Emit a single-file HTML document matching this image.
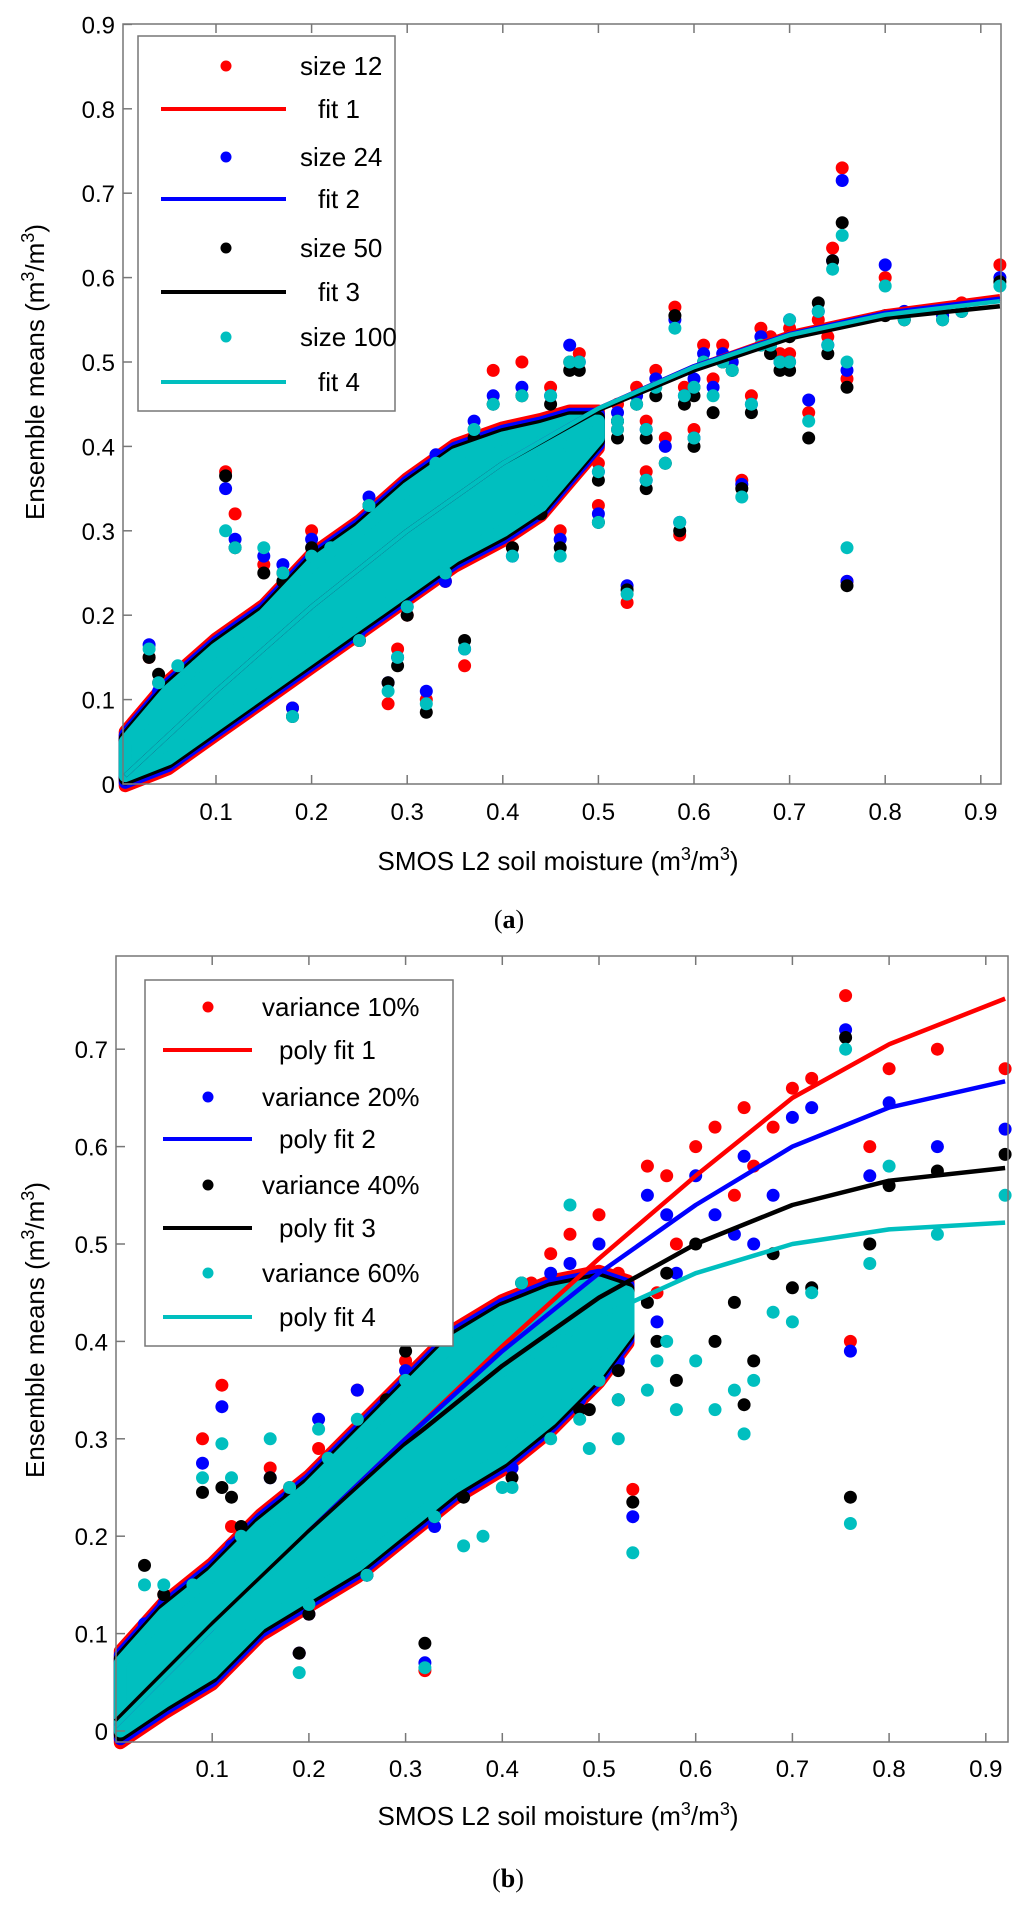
<!DOCTYPE html>
<html><head><meta charset="utf-8">
<style>
html,body{margin:0;padding:0;background:#fff;}
svg{display:block;font-family:"Liberation Sans",Arial,sans-serif;}
</style></head>
<body>
<svg id="fig" width="1024" height="1905" viewBox="0 0 1024 1905">
</svg>
<script>
// ---------- Panel (a) data ----------
const aTicksX = [0.1,0.2,0.3,0.4,0.5,0.6,0.7,0.8,0.9];
const aTicksY = [0,0.1,0.2,0.3,0.4,0.5,0.6,0.7,0.8,0.9];
const aBandX = [0.005,0.05,0.1,0.15,0.2,0.25,0.3,0.35,0.4,0.44,0.47,0.5];
const aBandUp = [0.05,0.11,0.16,0.2,0.26,0.3,0.35,0.39,0.41,0.42,0.43,0.43];
const aBandLo = [0.01,0.03,0.07,0.11,0.15,0.19,0.23,0.27,0.3,0.33,0.37,0.41];
const aPtX = [0.755,0.745,0.92,0.8,0.76,0.53,0.58,0.585,0.65,0.72,0.76,0.70,0.68,0.60,0.55,0.50,0.47,0.48,0.45,0.42,0.39,0.36,0.32,0.28,0.29,0.11,0.12,0.03,0.15,0.20,0.62,0.64,0.66,0.70,0.73,0.86,0.57,0.54,0.44,0.46,0.50,0.52,0.56,0.61,0.67,0.43,0.49,0.59,0.63,0.69,0.74,0.82,0.88,
  0.06,0.08,0.04,0.17,0.22,0.26,0.33,0.37,0.18,0.25,0.30,0.34,0.41,0.44,0.47,0.52,0.55,0.60];
const aRed   = [0.73,0.635,0.615,0.60,0.24,0.215,0.565,0.295,0.36,0.44,0.48,0.51,0.53,0.42,0.43,0.38,0.50,0.51,0.47,0.50,0.49,0.14,0.10,0.095,0.16,0.37,0.32,0.15,0.26,0.30,0.48,0.50,0.46,0.54,0.55,0.56,0.41,0.47,0.37,0.30,0.33,0.45,0.49,0.52,0.54,0.40,0.44,0.47,0.52,0.51,0.53,0.55,0.57,
  0.13,0.145,0.12,0.25,0.28,0.33,0.38,0.42,0.09,0.17,0.20,0.24,0.28,0.34,0.40,0.42,0.37,0.47];
const aBlue  = [0.715,0.62,0.60,0.615,0.24,0.235,0.55,0.31,0.355,0.455,0.49,0.50,0.52,0.41,0.42,0.37,0.52,0.50,0.46,0.47,0.46,0.16,0.11,0.12,0.15,0.35,0.29,0.165,0.27,0.29,0.47,0.50,0.45,0.55,0.56,0.555,0.40,0.46,0.36,0.29,0.32,0.44,0.48,0.51,0.53,0.39,0.43,0.46,0.51,0.50,0.52,0.56,0.56,
  0.12,0.14,0.11,0.26,0.27,0.34,0.39,0.43,0.09,0.18,0.21,0.24,0.27,0.33,0.41,0.43,0.36,0.48];
const aBlack = [0.665,0.62,0.595,0.555,0.235,0.23,0.555,0.30,0.35,0.41,0.47,0.49,0.51,0.40,0.41,0.36,0.49,0.49,0.45,0.46,0.45,0.17,0.085,0.12,0.14,0.365,0.28,0.15,0.25,0.28,0.44,0.49,0.44,0.53,0.57,0.55,0.38,0.45,0.35,0.28,0.31,0.43,0.46,0.50,0.52,0.38,0.42,0.45,0.50,0.49,0.51,0.55,0.56,
  0.12,0.13,0.13,0.24,0.27,0.33,0.37,0.41,0.08,0.17,0.20,0.25,0.28,0.32,0.39,0.41,0.35,0.46];
const aCyan  = [0.65,0.61,0.59,0.59,0.28,0.225,0.54,0.31,0.34,0.43,0.50,0.50,0.52,0.41,0.42,0.37,0.50,0.50,0.46,0.46,0.45,0.16,0.095,0.11,0.15,0.30,0.28,0.16,0.28,0.27,0.46,0.49,0.45,0.55,0.56,0.55,0.38,0.45,0.36,0.27,0.31,0.43,0.47,0.50,0.52,0.39,0.43,0.46,0.50,0.50,0.52,0.55,0.56,
  0.14,0.14,0.12,0.25,0.28,0.33,0.38,0.42,0.08,0.17,0.21,0.25,0.27,0.33,0.40,0.42,0.36,0.47];
const aFitX = [0.005,0.1,0.2,0.3,0.4,0.5,0.6,0.7,0.8,0.92];
const aFit1 = [0.01,0.11,0.21,0.30,0.38,0.445,0.495,0.535,0.56,0.578];
const aFit2 = [0.01,0.11,0.21,0.30,0.38,0.445,0.495,0.533,0.558,0.575];
const aFit3 = [0.01,0.11,0.21,0.30,0.38,0.443,0.49,0.528,0.552,0.566];
const aFit4 = [0.01,0.11,0.21,0.30,0.38,0.445,0.494,0.532,0.556,0.572];

// ---------- Panel (b) data ----------
const bTicksX = [0.1,0.2,0.3,0.4,0.5,0.6,0.7,0.8,0.9];
const bTicksY = [0,0.1,0.2,0.3,0.4,0.5,0.6,0.7];
const bBandX = [0.005,0.05,0.1,0.15,0.2,0.25,0.3,0.35,0.4,0.45,0.5,0.53];
const bBandUp = [0.07,0.12,0.16,0.21,0.25,0.30,0.35,0.40,0.43,0.45,0.46,0.45];
const bBandLo = [0.0,0.03,0.06,0.11,0.14,0.17,0.21,0.25,0.28,0.32,0.37,0.41];
const bPtX = [0.755,0.92,0.80,0.76,0.535,0.32,0.11,0.09,0.65,0.60,0.70,0.72,0.68,0.57,0.55,0.50,0.47,0.45,0.43,0.62,0.66,0.85,0.78,0.64,0.58,0.52,0.49,0.40,0.38,0.36,0.16,0.21,0.12,0.03,0.19,0.25,0.30,
  0.05,0.08,0.13,0.18,0.22,0.28,0.35,0.42,0.20,0.26,0.33,0.41,0.48,0.52,0.56,0.46];
const bRed   = [0.755,0.68,0.68,0.40,0.248,0.062,0.355,0.30,0.64,0.60,0.66,0.67,0.62,0.57,0.58,0.53,0.51,0.49,0.46,0.62,0.58,0.70,0.60,0.55,0.50,0.47,0.43,0.44,0.36,0.32,0.27,0.29,0.21,0.10,0.08,0.35,0.38,
  0.14,0.15,0.20,0.25,0.27,0.33,0.39,0.45,0.12,0.17,0.22,0.27,0.35,0.40,0.45,0.44];
const bBlue  = [0.72,0.618,0.645,0.39,0.22,0.07,0.333,0.275,0.59,0.57,0.63,0.64,0.55,0.53,0.55,0.50,0.48,0.47,0.44,0.53,0.50,0.60,0.57,0.51,0.47,0.45,0.40,0.42,0.33,0.30,0.26,0.32,0.19,0.11,0.08,0.35,0.37,
  0.13,0.14,0.19,0.24,0.28,0.32,0.38,0.44,0.12,0.16,0.21,0.27,0.34,0.38,0.42,0.43];
const bBlack = [0.712,0.592,0.56,0.24,0.235,0.09,0.25,0.245,0.335,0.50,0.455,0.455,0.49,0.47,0.44,0.43,0.45,0.42,0.40,0.40,0.38,0.575,0.50,0.44,0.36,0.34,0.33,0.38,0.30,0.24,0.26,0.26,0.24,0.17,0.08,0.30,0.39,
  0.14,0.15,0.21,0.24,0.27,0.34,0.40,0.46,0.12,0.16,0.22,0.26,0.33,0.37,0.40,0.41];
const bCyan  = [0.70,0.55,0.58,0.213,0.183,0.065,0.295,0.26,0.305,0.38,0.42,0.45,0.43,0.40,0.35,0.36,0.54,0.30,0.32,0.33,0.36,0.51,0.48,0.35,0.33,0.30,0.29,0.25,0.20,0.19,0.30,0.31,0.26,0.15,0.06,0.32,0.36,
  0.15,0.15,0.20,0.25,0.28,0.33,0.40,0.46,0.13,0.16,0.22,0.25,0.32,0.34,0.38,0.40];
const bFitX = [0.0,0.1,0.2,0.3,0.4,0.5,0.6,0.7,0.8,0.92];
const bFit1 = [0.005,0.105,0.205,0.30,0.395,0.485,0.57,0.65,0.705,0.752];
const bFit2 = [0.005,0.105,0.205,0.30,0.39,0.47,0.54,0.60,0.64,0.667];
const bFit3 = [0.01,0.11,0.205,0.295,0.375,0.445,0.50,0.54,0.565,0.578];
const bFit4 = [0.005,0.105,0.2,0.29,0.365,0.425,0.47,0.50,0.515,0.522];

const NS = "http://www.w3.org/2000/svg";
const svg = document.getElementById('fig');
function mk(tag, attrs, parent){
  const e = document.createElementNS(NS, tag);
  for (const k in attrs) e.setAttribute(k, attrs[k]);
  (parent||svg).appendChild(e);
  return e;
}
const COL = {r:'#ff0000', b:'#0000ff', k:'#000000', c:'#00bfbf'};

function panel(P){
  const g = mk('g', {});
  
  
  const X = v => P.x0 + v*P.sx;
  const Y = v => P.y0 - v*P.sy;
  const series = [['r',P.red,0.012,'red'],['b',P.blue,0.008,'blue'],['k',P.black,0.004,'black'],['c',P.cyan,0,'cyan']];
  series.forEach(([c,ys,off,nm])=>{
    let d = '';
    P.bandX.forEach((x,i)=>{ d += (i?'L':'M') + X(x).toFixed(1) + ',' + Y(P.bandUp[i]+off).toFixed(1); });
    for (let i=P.bandX.length-1;i>=0;i--){ d += 'L' + X(P.bandX[i]).toFixed(1) + ',' + Y(P.bandLo[i]-off).toFixed(1); }
    d += 'Z';
    const band = mk('path', {d:d, fill:COL[c], stroke:COL[c], 'stroke-width':13, 'stroke-linejoin':'round'}, g);
    
    
    P.ptX.forEach((x,i)=>{
      const dot = mk('circle', {cx:X(x).toFixed(1), cy:Y(ys[i]).toFixed(1), r:6.5, fill:COL[c]}, g);
      
      
    });
  });
  [[P.fit1,'r'],[P.fit2,'b'],[P.fit3,'k'],[P.fit4,'c']].forEach(([fy,c],j)=>{
    let d='';
    P.fitX.forEach((x,i)=>{ d += (i?'L':'M') + X(x).toFixed(1) + ',' + Y(fy[i]).toFixed(1); });
    const ln = mk('path', {d:d, fill:'none', stroke:COL[c], 'stroke-width':4.5, 'stroke-linejoin':'round'}, g);
    
    
  });
  const box = mk('rect', {x:P.L, y:P.T, width:P.R-P.L, height:P.B-P.T, fill:'none', stroke:'#777', 'stroke-width':1.5}, g);
  
  
  P.ticksX.forEach(v=>{
    const x = X(v);
    const t1 = mk('line', {x1:x, x2:x, y1:P.B, y2:P.B-9, stroke:'#777', 'stroke-width':1.5}, g);
    
    
    const t2 = mk('line', {x1:x, x2:x, y1:P.T, y2:P.T+9, stroke:'#777', 'stroke-width':1.5}, g);
    
    
    const tl = mk('text', {x:x, y:P.tickBase, 'font-size':24, 'text-anchor':'middle', fill:'#000'}, g);
    tl.textContent = String(v);
    
    
  });
  P.ticksY.forEach(v=>{
    const y = Y(v);
    const t1 = mk('line', {x1:P.L, x2:P.L+9, y1:y, y2:y, stroke:'#777', 'stroke-width':1.5}, g);
    
    
    const tl = mk('text', {x:P.L-8, y:y+9, 'font-size':24, 'text-anchor':'end', fill:'#000'}, g);
    tl.textContent = String(v);
    
    
  });
  const lg = mk('g', {}, g);
  
  
  const lb = mk('rect', {x:P.lg.x, y:P.lg.y, width:P.lg.w, height:P.lg.h, fill:'#fff', stroke:'#777', 'stroke-width':1.5}, lg);
  
  
  P.lg.labels.forEach((lab,i)=>{
    const c = ['r','r','b','b','k','k','c','c'][i];
    const y = P.lg.rows[i];
    if (i%2===0){
      const m = mk('circle', {cx:P.lg.mx, cy:y, r:5.5, fill:COL[c]}, lg);
      
      
    } else {
      const m = mk('line', {x1:P.lg.l1, x2:P.lg.l2, y1:y, y2:y, stroke:COL[c], 'stroke-width':4}, lg);
      
      
    }
    const t = mk('text', {x:(i%2===0?P.lg.tx1:P.lg.tx2), y:y+9, 'font-size':26, fill:'#000'}, lg);
    t.textContent = lab;
    
    
  });
  const xt = mk('text', {x:P.xlab[0], y:P.xlab[1], 'font-size':26, 'text-anchor':'middle', fill:'#000'}, g);
  xt.innerHTML = 'SMOS L2 soil moisture (m<tspan dy="-10" font-size="18">3</tspan><tspan dy="10">/m</tspan><tspan dy="-10" font-size="18">3</tspan><tspan dy="10">)</tspan>';
  
  
  const yt = mk('text', {x:0, y:0, 'font-size':26, 'text-anchor':'middle', fill:'#000', transform:'translate(' + P.ylab[0] + ',' + P.ylab[1] + ') rotate(-90)'}, g);
  yt.innerHTML = 'Ensemble means (m<tspan dy="-10" font-size="18">3</tspan><tspan dy="10">/m</tspan><tspan dy="-10" font-size="18">3</tspan><tspan dy="10">)</tspan>';
  
  
  const cap = mk('text', {x:P.cap[0], y:P.cap[1], 'font-size':26, 'text-anchor':'middle', fill:'#000', 'font-family':'"Liberation Serif", serif'}, g);
  cap.innerHTML = '(<tspan font-weight="bold">' + P.capL + '</tspan>)';
  
  
}

panel({name:'panel-a', x0:120.4, sx:956, y0:784, sy:844, L:123, R:1001, T:24, B:784,
  ticksX:aTicksX, ticksY:aTicksY, tickBase:820,
  bandX:aBandX, bandUp:aBandUp, bandLo:aBandLo, ptX:aPtX, red:aRed, blue:aBlue, black:aBlack, cyan:aCyan,
  fitX:aFitX, fit1:aFit1, fit2:aFit2, fit3:aFit3, fit4:aFit4,
  lg:{x:138,y:36,w:257,h:375,rows:[66,109,157,199,248,292,337,382],mx:226,l1:161,l2:286,tx1:300,tx2:318,
      labels:['size 12','fit 1','size 24','fit 2','size 50','fit 3','size 100','fit 4']},
  xlab:[558,870], ylab:[44,372], cap:[509,928], capL:'a'});

panel({name:'panel-b', x0:115.5, sx:967, y0:1731, sy:974, L:116, R:1008, T:956, B:1742,
  ticksX:bTicksX, ticksY:bTicksY, tickBase:1777,
  bandX:bBandX, bandUp:bBandUp, bandLo:bBandLo, ptX:bPtX, red:bRed, blue:bBlue, black:bBlack, cyan:bCyan,
  fitX:bFitX, fit1:bFit1, fit2:bFit2, fit3:bFit3, fit4:bFit4,
  lg:{x:145,y:980,w:308,h:366,rows:[1007,1050,1097,1139,1185,1228,1273,1317],mx:208,l1:163,l2:252,tx1:262,tx2:279,
      labels:['variance 10%','poly fit 1','variance 20%','poly fit 2','variance 40%','poly fit 3','variance 60%','poly fit 4']},
  xlab:[558,1825], ylab:[44,1330], cap:[508,1887], capL:'b'});
</script>
</body></html>
